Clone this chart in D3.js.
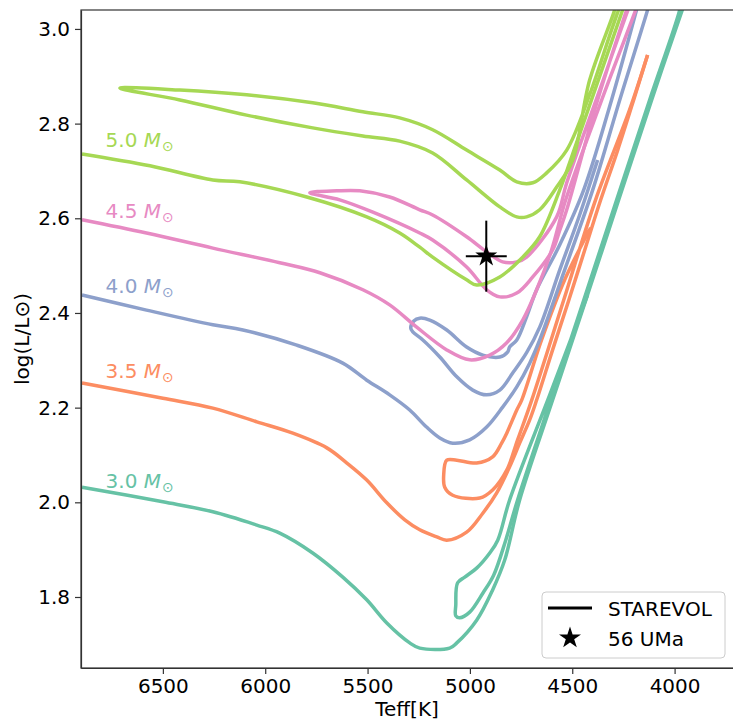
<!DOCTYPE html>
<html>
<head>
<meta charset="utf-8">
<script src="https://cdn.jsdelivr.net/npm/d3@7"></script>
<style>
  body { margin: 0; background: #fff; }
  svg { display: block; font-family: "DejaVu Sans", sans-serif; }
</style>
</head>
<body>
<div id="chart"></div>
<script>
// masses of the STAREVOL tracks and the label spot for each
const masses = ["3.0", "3.5", "4.0", "4.5", "5.0"];
const labelTeff = 6780;
const labelLogL = [2.030, 2.263, 2.442, 2.601, 2.751];

// each track = list of segments, each segment = [Teff, logL] points
const track30 = [
    [[6895,2.032],[6500,2.001],[6256,1.980],[6041,1.952],[5929,1.935],[5768,1.893],[5621,1.842],[5504,1.794],
     [5406,1.745],[5294,1.703],[5245,1.692],[5099,1.692],[5064,1.703],[4967,1.751],[4889,1.815],[4830,1.878],
     [4757,2.005],[4596,2.216],[4434,2.427],[4273,2.639],[4112,2.850],[3961,3.042],[3927,3.082]],
    [[3956,3.082],[3975,3.040],[4122,2.850],[4283,2.639],[4444,2.427],[4605,2.216],[4767,2.005],[4825,1.920],
     [4884,1.846],[4937,1.808],[5001,1.768],[5050,1.756],[5069,1.760],[5069,1.783],[5060,1.830],[5025,1.842],
     [4967,1.861],[4903,1.893],[4864,1.920],[4806,2.005],[4610,2.227],[4425,2.438]]
];
const track35 = [
    [[6895,2.252],[6500,2.220],[6256,2.199],[6041,2.170],[5865,2.146],[5699,2.115],[5601,2.083],[5504,2.047],
     [5406,1.999],[5318,1.963],[5245,1.942],[5162,1.927],[5113,1.920],[5016,1.937],[4937,1.977],[4869,2.020],
     [4806,2.075],[4757,2.125],[4708,2.174],[4674,2.216],[4596,2.322],[4517,2.427],[4439,2.533],[4361,2.639],
     [4278,2.744],[4200,2.850],[4132,2.945]],
    [[4132,2.945],[4220,2.829],[4386,2.639],[4542,2.427],[4698,2.216],[4767,2.132],[4820,2.068],[4889,2.026],
     [4952,2.009],[5084,2.015],[5123,2.032],[5128,2.058],[5113,2.089],[5064,2.089],[4967,2.083],[4889,2.096],
     [4845,2.125],[4820,2.146],[4771,2.195],[4747,2.216],[4650,2.343],[4537,2.470],[4410,2.580]]
];
const track40 = [
    [[6895,2.438],[6580,2.406],[6256,2.375],[6109,2.364],[5846,2.332],[5621,2.294],[5504,2.258],[5392,2.227],
     [5294,2.195],[5212,2.159],[5147,2.136],[5084,2.125],[5001,2.132],[4918,2.159],[4840,2.201],[4771,2.244],
     [4708,2.294],[4659,2.343],[4537,2.491],[4400,2.660],[4268,2.850],[4132,3.040],[4112,3.072]],
    [[4166,3.072],[4308,2.850],[4444,2.660],[4561,2.544],[4674,2.449],[4723,2.392],[4771,2.343],[4806,2.328],
     [4815,2.318],[4854,2.307],[4937,2.311],[5016,2.328],[5113,2.364],[5196,2.385],[5245,2.389],[5274,2.383],
     [5289,2.368],[5279,2.360],[5230,2.343],[5147,2.307],[5064,2.265],[4986,2.237],[4918,2.227],[4854,2.237],
     [4791,2.273],[4723,2.316],[4659,2.370],[4561,2.491],[4464,2.607],[4376,2.723]]
];
const track45 = [
    [[6895,2.597],[6580,2.569],[6256,2.537],[5929,2.506],[5733,2.485],[5523,2.449],[5392,2.417],[5260,2.370],
     [5113,2.322],[5001,2.301],[4903,2.311],[4820,2.337],[4742,2.385],[4674,2.449],[4601,2.533],[4532,2.639],
     [4356,2.850],[4181,3.051],[4161,3.078]],
    [[4205,3.078],[4376,2.850],[4527,2.618],[4561,2.575],[4596,2.533],[4693,2.476],[4771,2.442],[4854,2.434],
     [4918,2.449],[5016,2.497],[5182,2.554],[5245,2.569],[5474,2.613],[5636,2.639],[5782,2.654],[5650,2.658],
     [5538,2.658],[5392,2.645],[5245,2.618],[5182,2.607],[5016,2.561],[4918,2.529],[4840,2.508],[4771,2.508],
     [4723,2.518],[4576,2.603],[4527,2.675],[4366,2.871],[4210,3.061],[4190,3.082]]
];
const track50 = [
    [[6895,2.736],[6563,2.711],[6256,2.681],[6124,2.677],[5797,2.645],[5504,2.603],[5343,2.569],[5245,2.539],
     [5182,2.518],[5016,2.470],[4967,2.459],[4854,2.476],[4742,2.518],[4659,2.561],[4561,2.660],[4513,2.717],
     [4415,2.839],[4254,3.040],[4220,3.082]],
    [[4268,3.082],[4293,3.040],[4415,2.892],[4498,2.723],[4576,2.666],[4659,2.618],[4723,2.603],[4771,2.603],
     [4854,2.624],[5016,2.681],[5182,2.738],[5343,2.763],[5523,2.774],[5768,2.791],[6091,2.818],[6417,2.850],
     [6710,2.875],[6417,2.871],[6091,2.861],[5768,2.844],[5523,2.825],[5343,2.812],[5182,2.787],[5016,2.744],
     [4854,2.702],[4771,2.677],[4693,2.675],[4625,2.696],[4527,2.744],[4415,2.861],[4308,2.998],[4239,3.082]]
];
const tracks = [track30, track35, track40, track45, track50];

// 56 UMa
const starTeff = 4920, starTeffErr = 100;
const starLogL = 2.52, starLogLErr = 0.075;

const xTicks = [6500, 6000, 5500, 5000, 4500, 4000];
const yTicks = [1.8, 2.0, 2.2, 2.4, 2.6, 2.8, 3.0];

const colors = ['#66c2a5', '#fc8d62', '#8da0cb', '#e78ac3', '#a6d854'];

const W = 733, H = 722;
const svg = d3.select('#chart').append('svg')
    .attr('width', W)
    .attr('height', H);

const x = d3.scaleLinear().domain([6900, 3700]).range([81, 736]);
const y = d3.scaleLinear().domain([1.65, 3.04]).range([668, 10]);

svg.append('clipPath').attr('id', 'plotclip')
  .append('rect')
    .attr('x', x.range()[0]).attr('y', y.range()[1])
    .attr('width', x.range()[1] - x.range()[0])
    .attr('height', y.range()[0] - y.range()[1]);

// tracks
const line = d3.line()
    .x(d => x(d[0])).y(d => y(d[1]))
    .curve(d3.curveCatmullRom.alpha(0.5));
const trackG = svg.append('g').attr('clip-path', 'url(#plotclip)');
tracks.forEach((segs, i) => {
    trackG.selectAll(null)
        .data(segs)
      .enter().append('path')
        .attr('d', line)
        .attr('fill', 'none')
        .attr('stroke', colors[i])
        .attr('stroke-width', 3.5)
        .attr('stroke-linejoin', 'round');
});

// mass labels
masses.forEach((m, i) => {
    const t = svg.append('text')
        .attr('x', x(labelTeff))
        .attr('y', y(labelLogL[i]))
        .attr('font-size', 20)
        .attr('fill', colors[i]);
    t.append('tspan').text(m + ' ');
    t.append('tspan').attr('font-style', 'italic').text('M');
    t.append('tspan').attr('font-size', 14).attr('dy', 4).attr('dx', 1).text('\u2299');
});

// 56 UMa with error bars
const obs = svg.append('g');
obs.append('line')
    .attr('x1', x(starTeff - starTeffErr)).attr('x2', x(starTeff + starTeffErr))
    .attr('y1', y(starLogL)).attr('y2', y(starLogL))
    .attr('stroke', '#000').attr('stroke-width', 2);
obs.append('line')
    .attr('x1', x(starTeff)).attr('x2', x(starTeff))
    .attr('y1', y(starLogL - starLogLErr)).attr('y2', y(starLogL + starLogLErr))
    .attr('stroke', '#000').attr('stroke-width', 2);
obs.append('path')
    .attr('d', d3.symbol(d3.symbolStar).size(150))
    .attr('transform', `translate(${x(starTeff)},${y(starLogL)})`)
    .attr('fill', '#000');

// axes
const xAxis = d3.axisBottom(x).tickValues(xTicks).tickFormat(d3.format('d'))
    .tickSize(6).tickPadding(5).tickSizeOuter(0);
const yAxis = d3.axisLeft(y).tickValues(yTicks).tickFormat(d3.format('.1f'))
    .tickSize(6).tickPadding(5).tickSizeOuter(0);

const gx = svg.append('g')
    .attr('transform', `translate(0,${y.range()[0]})`)
    .call(xAxis);
const gy = svg.append('g')
    .attr('transform', `translate(${x.range()[0]},0)`)
    .call(yAxis);
[gx, gy].forEach(g => {
    g.attr('font-size', 20).attr('font-family', '"DejaVu Sans", sans-serif');
    g.selectAll('text').attr('fill', '#000');
    g.selectAll('line').attr('stroke', '#333').attr('stroke-width', 1.2);
    g.select('.domain').attr('stroke', '#333').attr('stroke-width', 1.2);
});

svg.append('rect')
    .attr('x', x.range()[0]).attr('y', y.range()[1])
    .attr('width', x.range()[1] - x.range()[0])
    .attr('height', y.range()[0] - y.range()[1])
    .attr('fill', 'none').attr('stroke', '#333').attr('stroke-width', 1.2);

svg.append('text')
    .attr('x', (x.range()[0] + 733) / 2)
    .attr('y', 716)
    .attr('text-anchor', 'middle')
    .attr('font-size', 20)
    .text('Teff[K]');

svg.append('text')
    .attr('transform', `translate(29,${(y.range()[0] + y.range()[1]) / 2}) rotate(-90)`)
    .attr('text-anchor', 'middle')
    .attr('font-size', 20)
    .text('log(L/L\u2299)');

// legend
const leg = svg.append('g');
leg.append('rect')
    .attr('x', 542).attr('y', 592).attr('width', 183).attr('height', 66).attr('rx', 4)
    .attr('fill', '#fff').attr('fill-opacity', 0.8)
    .attr('stroke', '#ccc').attr('stroke-width', 1);
leg.append('line')
    .attr('x1', 548).attr('x2', 592).attr('y1', 608).attr('y2', 608)
    .attr('stroke', '#000').attr('stroke-width', 3);
leg.append('text').attr('x', 608).attr('y', 616).attr('font-size', 20).text('STAREVOL');
leg.append('path')
    .attr('d', d3.symbol(d3.symbolStar).size(150))
    .attr('transform', 'translate(570,638)')
    .attr('fill', '#000');
leg.append('text').attr('x', 608).attr('y', 646).attr('font-size', 20).text('56 UMa');
</script>
</body>
</html>
